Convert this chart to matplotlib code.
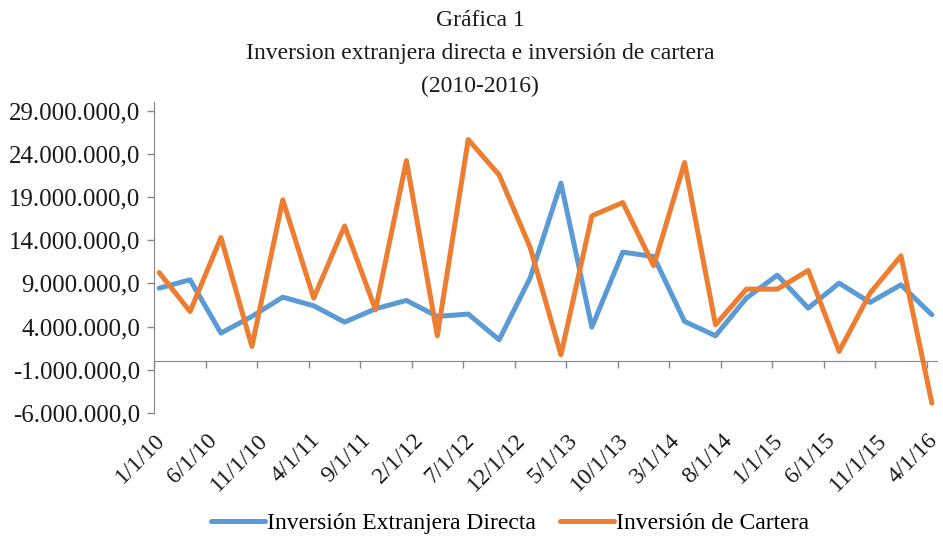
import pandas as pd
import matplotlib
matplotlib.use('Agg')
import matplotlib.pyplot as plt
from matplotlib.ticker import FuncFormatter
from matplotlib.transforms import blended_transform_factory, offset_copy

plt.rcParams['font.family'] = ['Liberation Serif', 'DejaVu Serif']

# trimestres 2010-2016
quarters = pd.date_range('2010-01-01', '2016-04-01', freq='QS')

ied = [8450000, 9420000, 3250000, 5180000, 7410000, 6410000, 4520000, 6060000,
       7030000, 5180000, 5450000, 2480000, 9610000, 20600000, 3940000, 12620000,
       12110000, 4600000, 2940000, 7300000, 9960000, 6140000, 9030000, 6800000,
       8840000, 5370000]
cartera = [10260000, 5750000, 14310000, 1710000, 18670000, 7300000, 15660000, 5950000,
           23220000, 2940000, 25650000, 21560000, 13200000, 740000, 16820000, 18360000,
           11040000, 22990000, 4210000, 8340000, 8340000, 10500000, 1130000, 7870000,
           12190000, -4850000]

tick_labels = ['1/1/10', '6/1/10', '11/1/10', '4/1/11', '9/1/11', '2/1/12', '7/1/12',
               '12/1/12', '5/1/13', '10/1/13', '3/1/14', '8/1/14', '1/1/15', '6/1/15',
               '11/1/15', '4/1/16']
y_ticks = [-6000000, -1000000, 4000000, 9000000, 14000000, 19000000, 24000000, 29000000]

blue = '#5B9BD5'
orange = '#ED7D31'
axis_gray = '#868686'
txt = '#1a1a1a'

# eje de fechas por meses: cada punto en el centro de su mes
months = [(d.year - 2010) * 12 + d.month - 1 + 0.5 for d in quarters]
tick_pos = list(range(0, 76, 5))

fig = plt.figure(figsize=(9.43, 5.44), dpi=100)
ax = fig.add_axes([154 / 943, 1 - 413 / 544, (937 - 154) / 943, (413 - 102) / 544])

ax.plot(months, ied, color=blue, lw=3.6, solid_joinstyle='round', solid_capstyle='round',
        label='Inversión Extranjera Directa')
ax.plot(months, cartera, color=orange, lw=3.6, solid_joinstyle='round', solid_capstyle='round',
        label='Inversión de Cartera')

ax.set_xlim(0, 76)
ax.set_ylim(-6000000, 30000000)

def fmt(v, pos):
    s = f"{v:,.1f}"
    return s.replace(',', 'X').replace('.', ',').replace('X', '.')

ax.set_yticks(y_ticks)
ax.yaxis.set_major_formatter(FuncFormatter(fmt))
ax.tick_params(axis='y', length=5, width=1, color=axis_gray, labelsize=18, pad=5,
               labelcolor=txt)

ax.spines['top'].set_visible(False)
ax.spines['right'].set_visible(False)
ax.spines['left'].set_color(axis_gray)
ax.spines['bottom'].set_color(axis_gray)
ax.spines['bottom'].set_position(('data', 0))

ax.set_xticks(tick_pos)
ax.tick_params(axis='x', length=5, width=1, color=axis_gray, labelbottom=False)

trans = blended_transform_factory(ax.transData, ax.transAxes)
trans = offset_copy(trans, fig=fig, x=8, y=-24, units='dots')
for p, lab in zip(tick_pos, tick_labels):
    ax.text(p, 0, lab, transform=trans, rotation=45, rotation_mode='anchor',
            ha='right', va='center', fontsize=17, color=txt)

fig.text(480 / 943, 1 - 21 / 544, 'Gráfica 1', ha='center', va='center', fontsize=17, color=txt)
fig.text(480 / 943, 1 - 53 / 544, 'Inversion extranjera directa e inversión de cartera',
         ha='center', va='center', fontsize=17, color=txt)
fig.text(480 / 943, 1 - 86 / 544, '(2010-2016)', ha='center', va='center', fontsize=17,
         color=txt)

fig.legend(loc='center', bbox_to_anchor=(510 / 943, 1 - 523 / 544), ncol=2, frameon=False,
           fontsize=17, handlelength=2.3, handletextpad=0.1, columnspacing=1.0)

fig.savefig('out.png', dpi=100)
